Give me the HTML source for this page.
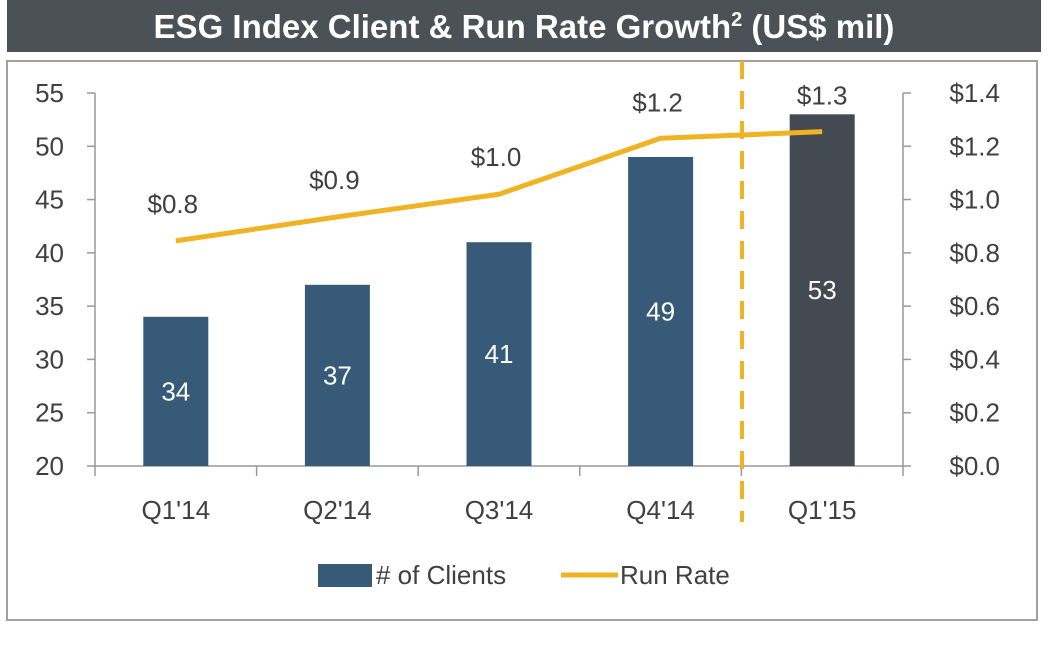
<!DOCTYPE html>
<html><head><meta charset="utf-8"><style>
body{margin:0;background:#fff;width:1049px;height:643px;overflow:hidden;font-family:"Liberation Sans",sans-serif}
</style></head><body>
<svg width="1049" height="643">
<rect x="7" y="0" width="1034" height="52" fill="#4a5258"/>
<text x="524" y="38" text-anchor="middle" fill="#fff" font-size="33" font-weight="bold">ESG Index Client &amp; Run Rate Growth<tspan font-size="20" dy="-12">2</tspan><tspan dy="12"> (US$ mil)</tspan></text>
<rect x="7" y="61" width="1030" height="559" fill="none" stroke="#a0a0a0" stroke-width="2"/>
<g id="chart"></g>
</svg>
<script>
const categories=["Q1'14","Q2'14","Q3'14","Q4'14","Q1'15"];
const clients=[34,37,41,49,53];
const runRate=[0.845,0.935,1.02,1.23,1.255];
const runLabels=["$0.8","$0.9","$1.0","$1.2","$1.3"];
const leftTicks=[20,25,30,35,40,45,50,55];
const rightTicks=[0,0.2,0.4,0.6,0.8,1.0,1.2,1.4];
const NS="http://www.w3.org/2000/svg",g=document.getElementById('chart');
const X0=95,X1=903,Y0=466,Y1=93,cw=(X1-X0)/categories.length;
const yl=v=>Y0-(v-20)/35*(Y0-Y1), yr=v=>Y0-v/1.4*(Y0-Y1), xc=i=>X0+cw*(i+0.5);
function el(t,a,txt){const e=document.createElementNS(NS,t);for(const k in a)e.setAttribute(k,a[k]);if(txt!==undefined)e.textContent=txt;g.appendChild(e);return e;}
const F={'font-family':'Liberation Sans, sans-serif','font-size':'26',fill:'#404040'};
let e;
e=el('line',{x1:X0,y1:Y1,x2:X0,y2:Y0,stroke:'#999','stroke-width':1.5});

e=el('line',{x1:X1,y1:Y1,x2:X1,y2:Y0,stroke:'#999','stroke-width':1.5});

e=el('line',{x1:X0,y1:Y0,x2:X1,y2:Y0,stroke:'#999','stroke-width':1.5});

leftTicks.forEach(v=>{const y=yl(v);
e=el('line',{x1:X0-8,y1:y,x2:X0,y2:y,stroke:'#999','stroke-width':1.5});

e=el('text',Object.assign({x:64,y:y+9,'text-anchor':'end'},F),String(v));
});
rightTicks.forEach(v=>{const y=yr(v);
e=el('line',{x1:X1,y1:y,x2:X1+8,y2:y,stroke:'#999','stroke-width':1.5});

e=el('text',Object.assign({x:1000,y:y+9,'text-anchor':'end'},F),'$'+v.toFixed(1));
});
for(let i=0;i<=categories.length;i++){
e=el('line',{x1:X0+cw*i,y1:Y0,x2:X0+cw*i,y2:Y0+10,stroke:'#999','stroke-width':1.5});
}
categories.forEach((c,i)=>{
const bw=65,y=yl(clients[i]);
e=el('rect',{x:xc(i)-bw/2,y:y,width:bw,height:Y0-y,fill:i==4?'#434a51':'#365a78'});

e=el('text',Object.assign({},F,{x:xc(i),y:(y+Y0)/2+9,'text-anchor':'middle',fill:'#fff'}),String(clients[i]));

e=el('text',Object.assign({x:xc(i),y:519,'text-anchor':'middle'},F),c);

});
e=el('line',{x1:742,y1:61,x2:742,y2:522,stroke:'#f0b323','stroke-width':4,'stroke-dasharray':'18,12'});

e=el('polyline',{points:runRate.map((v,i)=>xc(i)+','+yr(v)).join(' '),fill:'none',stroke:'#f0b323','stroke-width':5,'stroke-linejoin':'round'});

runRate.forEach((v,i)=>{
e=el('text',Object.assign({x:xc(i)-(i==4?0:3),y:yr(v)-(i>=3?27:28),'text-anchor':'middle'},F),runLabels[i]);
});
e=el('rect',{x:318,y:564,width:54,height:23,fill:'#365a78'});

e=el('text',Object.assign({x:376,y:584},F),'# of Clients');

e=el('line',{x1:561,y1:575,x2:618,y2:575,stroke:'#f0b323','stroke-width':5});

e=el('text',Object.assign({x:620,y:584},F),'Run Rate');

</script>
</body></html>
